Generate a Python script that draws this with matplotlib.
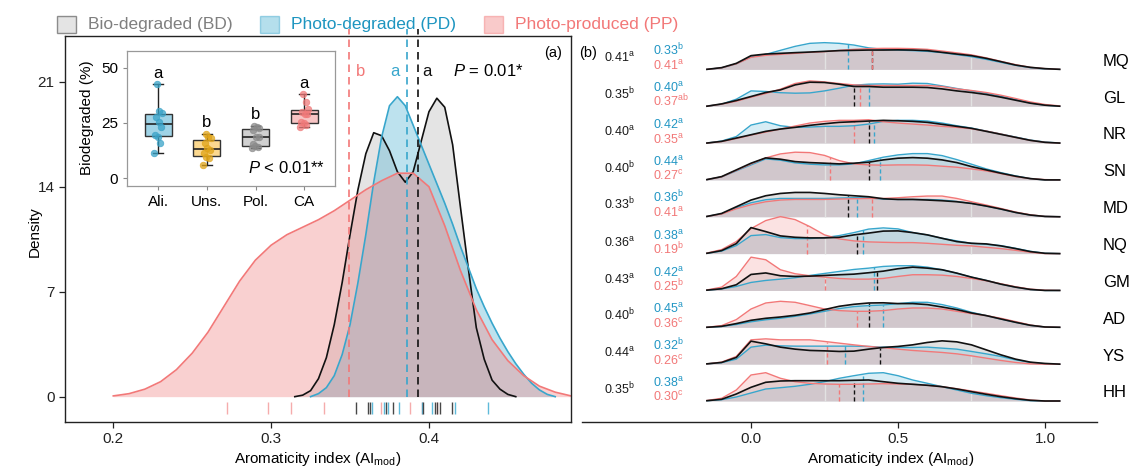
import numpy as np
import matplotlib
matplotlib.use("Agg")
import matplotlib.pyplot as plt
from matplotlib.patches import Rectangle

plt.rcParams["font.family"] = ["Liberation Sans", "DejaVu Sans"]
plt.rcParams["mathtext.fontset"] = "custom"
plt.rcParams["mathtext.rm"] = "Liberation Sans"
plt.rcParams["mathtext.it"] = "Liberation Sans:italic"
plt.rcParams["mathtext.bf"] = "Liberation Sans:bold"

# ---------------- data: panel (a) ----------------
groups = ["BD", "PD", "PP"]
legend_labels = ["Bio-degraded (BD)", "Photo-degraded (PD)", "Photo-produced (PP)"]

# density curves
bd_x = np.linspace(0.315, 0.455, 29)
bd_y = [0, 0.1, 0.4, 1.2, 2.6, 4.8, 7.6, 10.8, 13.8, 16.2, 17.6, 17.4, 16.4, 15.0, 14.3,
        15.0, 17.0, 19.0, 19.9, 19.3, 16.8, 12.6, 8.5, 4.6, 2.5, 1.1, 0.5, 0.15, 0]
pd_x = np.linspace(0.325, 0.48, 32)
pd_y = [0, 0.2, 0.6, 1.4, 2.8, 4.8, 7.6, 10.8, 14.3, 17.3, 19.4, 20.0, 19.4, 18.1, 16.8,
        15.5, 14.2, 12.9, 11.5, 10.0, 8.6, 7.2, 6.0, 4.9, 3.9, 3.0, 2.2, 1.5, 0.9, 0.45,
        0.15, 0]
pp_x = np.linspace(0.20, 0.49, 30)
pp_y = [0.05, 0.2, 0.5, 1.0, 1.8, 2.9, 4.3, 6.0, 7.7, 9.1, 10.1, 10.8, 11.3, 11.8, 12.4,
        13.1, 13.8, 14.4, 14.9, 14.9, 14.0, 11.4, 8.4, 5.8, 3.8, 2.4, 1.4, 0.7, 0.3, 0.05]

rug_bd = [0.3536, 0.3616, 0.3626, 0.3726, 0.3774, 0.3965, 0.4038, 0.4053, 0.407, 0.4144]
rug_pd = [0.3641, 0.3715, 0.3742, 0.381, 0.3958, 0.4021, 0.4165, 0.4376]
rug_pp = [0.272, 0.2982, 0.3124, 0.3337, 0.3694, 0.388, 0.3958, 0.4053]

group_means = [0.3928, 0.386, 0.3496]
group_letters = ["a", "a", "b"]

# inset box plot
box_cats = ["Ali.", "Uns.", "Pol.", "CA"]
box_vals = [
    [11.6, 15.8, 18.8, 19.6, 23.0, 25.6, 27.9, 29.4, 30.4, 42.5],
    [5.9, 9.0, 9.8, 11.3, 12.8, 13.8, 16.0, 18.0, 18.8, 20.0],
    [13.6, 14.0, 14.6, 15.4, 18.6, 18.8, 22.0, 22.6, 23.0, 23.6],
    [23.3, 24.1, 24.8, 25.6, 29.0, 29.2, 30.1, 31.2, 34.6, 38.0],
]
box_letters = ["a", "b", "b", "a"]

# ---------------- data: panel (b) ----------------
sites = ["MQ", "GL", "NR", "SN", "MD", "NQ", "GM", "AD", "YS", "HH"]
ridge_x = np.linspace(-0.15, 1.05, 25)
ridge_bd = {
    "MQ": [0, 1.7, 6, 13.7, 15.3, 16, 16.7, 17.3, 18, 18.7, 19, 19.3, 19.3, 19.5, 19.3, 18.7, 17, 15.3, 13.7, 11, 7.7, 4.3, 2, 0.7, 0],
    "GL": [0, 2.3, 5.7, 9.7, 13.7, 16.3, 21.3, 24, 23.7, 22, 19.7, 19.7, 19, 19, 19, 18.7, 17.3, 15.3, 13.7, 11.7, 9, 6, 3, 1, 0],
    "NR": [0, 1.7, 5, 8.3, 11.7, 14, 15.7, 17.7, 19.3, 20.7, 21.3, 22, 22.7, 22.3, 21.7, 20.7, 18.7, 16.7, 14.7, 11.7, 8.7, 5.7, 2.7, 0.7, 0],
    "SN": [0.3, 3.3, 10, 16.7, 22, 20.7, 18.3, 17.3, 16.7, 16, 16.7, 17.7, 20, 21.7, 22.3, 21.7, 20, 17.3, 13.3, 10, 6.7, 3.7, 1.3, 0, 0],
    "MD": [0.3, 3.3, 10, 16.7, 21, 23.3, 24.3, 24.3, 23.3, 22, 21, 20, 18, 17.3, 17.3, 16.7, 16, 15, 13.3, 10.7, 7.7, 4.3, 1.7, 0.3, 0],
    "NQ": [0.3, 3, 10, 26, 22, 17.7, 16.3, 15.7, 15.7, 16.3, 18.7, 20.5, 22.5, 22.7, 21, 18.7, 15.3, 12, 10.3, 9.7, 7.7, 5, 2, 0.3, 0],
    "GM": [0.3, 1.7, 5.7, 16, 17.5, 14.7, 14, 14.3, 15, 15.7, 16.3, 17.7, 19.3, 21.7, 23.3, 22.3, 20.7, 17.3, 13.3, 10, 6.3, 3.3, 1, 0, 0],
    "AD": [0, 1, 3.7, 7, 9, 10.3, 12, 14.3, 17.7, 21, 23, 24.3, 24.5, 23.7, 23.7, 22.7, 20.3, 17.7, 14.3, 11.7, 8.3, 5, 2, 0.3, 0],
    "YS": [0.3, 1.7, 6.7, 23, 20.3, 17, 15, 13.7, 13.3, 12.7, 13, 15, 16.7, 17.7, 19.3, 21.7, 23.3, 22.3, 19.3, 14.3, 9.3, 5, 2, 0.7, 0],
    "HH": [0.3, 1.7, 7, 13.7, 18.7, 20, 20.3, 20.3, 20.3, 20.3, 20.7, 21, 19.3, 17.7, 16.7, 15.7, 14.3, 12, 9.3, 6.7, 4.3, 2.3, 0.7, 0, 0],
}
ridge_pd = {
    "MQ": [0, 1.5, 5.5, 12.5, 15, 19, 23, 26, 26.7, 26, 24.3, 21.5, 20, 19.3, 18.7, 18, 16.7, 14.7, 12.7, 10, 7, 4, 1.7, 0.3, 0],
    "GL": [0, 2, 7, 15.3, 14.7, 13.5, 13, 13.3, 15.3, 18, 21, 22, 22.3, 22, 23, 22.7, 20.3, 17.7, 15.3, 13, 10, 6.7, 3.3, 1, 0],
    "NR": [0, 2, 6.5, 18, 21.3, 17.3, 15.7, 16, 16.7, 16.7, 17.3, 19, 21.7, 22.7, 22.7, 22, 20, 17.3, 15, 12, 9, 6, 3, 1, 0],
    "SN": [0.3, 3, 9, 15, 21, 19.7, 17, 15.7, 15, 15, 16, 19.3, 22.7, 25, 26.3, 26.3, 24.3, 20.3, 15.7, 11, 7.3, 4, 1.3, 0, 0],
    "MD": [0.3, 3, 9, 14, 17, 18.3, 18.3, 18.3, 18.3, 18.7, 19, 19, 17.5, 17.3, 17.3, 17.3, 16.7, 15.3, 13.3, 10.7, 7.7, 4.3, 1.7, 0.3, 0],
    "NQ": [0.3, 2.5, 8, 18, 19, 16, 15, 15, 16, 18, 21, 24.5, 25.7, 24.7, 21, 18.7, 15.3, 12.7, 10.3, 9.3, 8, 5.3, 2.3, 0.3, 0],
    "GM": [0.3, 1.5, 4, 8, 10, 11.3, 12.7, 15, 17, 19, 21, 22.3, 24, 24.7, 24.7, 23.3, 20.7, 17.3, 13.3, 10, 6.3, 3.3, 1, 0, 0],
    "AD": [0, 0.8, 2.8, 5.5, 7.5, 9, 11, 13.3, 16, 18.7, 20.7, 21.7, 22.3, 23.7, 25, 25, 22.7, 19.3, 15, 11.7, 8.3, 5, 2, 0.3, 0],
    "YS": [0.3, 1.5, 5, 17, 19, 18.3, 18, 18, 18, 18, 18, 17.7, 17, 16.7, 16.7, 17, 16, 15, 12.7, 10.3, 7.7, 4.3, 1.7, 0.3, 0],
    "HH": [0.3, 1.3, 4, 8, 12, 13.3, 14.7, 16.7, 19.3, 22.7, 25.3, 27.7, 28.3, 25.3, 21, 17.7, 14.3, 11, 7.7, 5.3, 3.3, 1.7, 0.3, 0, 0],
}
ridge_pp = {
    "MQ": [0, 1.5, 5.5, 12, 14, 15, 16, 17, 17.7, 19, 20, 20.7, 21, 21, 20.7, 20, 18.3, 16.5, 14.5, 11.5, 8, 4.7, 2, 0.7, 0],
    "GL": [0, 2, 5, 9, 12.7, 17, 22.7, 25.3, 24.3, 22.7, 21.3, 20.7, 20.7, 20.7, 20.7, 20.7, 19.7, 17.3, 15.7, 13.7, 11, 7.7, 4.3, 1.7, 0.3],
    "NR": [0, 1.5, 4.5, 8, 11, 14, 17, 20, 21.7, 22.7, 22.7, 23.3, 21.3, 20, 19, 18, 16.7, 15.7, 14.3, 12, 9, 5.7, 2.7, 0.7, 0],
    "SN": [0.3, 3, 9.5, 16, 22, 26, 27.7, 27.3, 24.5, 19.3, 16, 15, 14.7, 15, 15, 14.7, 13.7, 12.7, 11, 9, 6.3, 3.3, 1.3, 0.3, 0],
    "MD": [0.3, 2.7, 8, 12, 15, 16.7, 17.3, 17.3, 17.3, 17.7, 18, 18.3, 18.3, 19, 20, 20.7, 20.7, 18.3, 15, 11.7, 8.3, 4.7, 2, 0.3, 0],
    "NQ": [0.5, 4, 12, 25, 33, 37, 34, 27, 18.7, 14.7, 12.7, 11.7, 11.3, 11, 11, 10.3, 9.3, 8.3, 7.7, 6.3, 5, 3.3, 1.3, 0, 0],
    "GM": [0.5, 3.3, 14, 33.3, 30.7, 20.7, 16.7, 14.7, 13.3, 12, 11.3, 11.3, 12, 14, 15.7, 15.7, 15.3, 14, 12, 9.7, 6.7, 3.7, 1.3, 0.3, 0],
    "AD": [0, 1.7, 7.7, 18.3, 24.3, 26, 25, 21.7, 18.3, 16.7, 16, 16, 16.7, 18.3, 19.3, 19.3, 18.3, 16, 13.7, 11.7, 9, 5.7, 2.3, 0.3, 0],
    "YS": [0.3, 2, 7.7, 24.3, 25.3, 24.3, 24.3, 24.3, 22.7, 21, 19.3, 17.7, 16.5, 15, 13.7, 12.7, 11.7, 10.3, 8.3, 6, 3.7, 1.7, 0.3, 0, 0],
    "HH": [0.5, 2.7, 11, 26, 28.3, 22.7, 19.3, 17.7, 17, 16.7, 16.7, 17, 17.3, 17, 16.7, 15.7, 14.3, 12.3, 10, 7.7, 5.3, 3, 1, 0, 0],
}

site_bd_mean = [0.41, 0.35, 0.40, 0.40, 0.33, 0.36, 0.43, 0.40, 0.44, 0.35]
site_bd_lab = ["a", "b", "a", "b", "b", "a", "a", "b", "a", "b"]
site_pd_mean = [0.33, 0.40, 0.42, 0.44, 0.36, 0.38, 0.42, 0.45, 0.32, 0.38]
site_pd_lab = ["b", "a", "a", "a", "b", "a", "a", "a", "b", "a"]
site_pp_mean = [0.41, 0.37, 0.35, 0.27, 0.41, 0.19, 0.25, 0.36, 0.26, 0.30]
site_pp_lab = ["a", "ab", "a", "c", "a", "b", "b", "c", "c", "c"]

# ---------------- styles ----------------
W, H = 1132, 471
line_col = {"BD": "#111111", "PD": "#38a6cc", "PP": "#f27878"}
fill_col = {"BD": "#c4c4c4", "PD": "#5bb8d6", "PP": "#f28b8b"}
text_col = {"BD": "#7f7f7f", "PD": "#1d95c0", "PP": "#f27878"}
num_col = {"BD": "#1a1a1a", "PD": "#2196c4", "PP": "#f27878"}


def fig_rect(l, t, r, b):
    return [l / W, 1 - b / H, (r - l) / W, (b - t) / H]


def sup(v, s):
    return f"{v:.2f}" + r"$^{\mathrm{" + s + "}}$"


fig = plt.figure(figsize=(W / 100, H / 100), dpi=100)

# ---------------- panel (a) ----------------
ax = fig.add_axes(fig_rect(65, 36, 571, 422))
curves = {"BD": (bd_x, bd_y), "PD": (pd_x, pd_y), "PP": (pp_x, pp_y)}
alphas = {"BD": 0.45, "PD": 0.4, "PP": 0.4}
for g in groups:
    x, y = curves[g]
    ax.fill_between(x, 0, y, color=fill_col[g], alpha=alphas[g], lw=0)
    ax.plot(x, y, color=line_col[g], lw=1.2)

top = 24.05
rugs = {"BD": rug_bd, "PD": rug_pd, "PP": rug_pp}
rug_col = {"BD": "#333333", "PD": "#4db3d6", "PP": "#f4a3a3"}
for g in ["PP", "PD", "BD"]:
    ax.vlines(rugs[g], -1.15, -0.35, colors=rug_col[g], lw=1.0, alpha=0.9)

letter_dx = [0.0062, -0.0073, 0.0068]
for g, m, lt, dx in zip(groups, group_means, group_letters, letter_dx):
    ax.vlines(m, 0, top + 0.5, colors=line_col[g], lw=1.2, linestyles=(0, (4.5, 3)),
              clip_on=False)
    ax.text(m + dx, 21.7, lt, color=line_col[g], fontsize=12, ha="center", va="center")
ax.text(0.4154, 21.7, r"$P$ = 0.01*", fontsize=12, ha="left", va="center")

ax.set_xlim(0.1694, 0.49)
ax.set_ylim(-1.69, top)
ax.set_xticks([0.2, 0.3, 0.4])
ax.set_xticklabels(["0.2", "0.3", "0.4"])
ax.set_yticks([0, 7, 14, 21])
ax.tick_params(labelsize=11, length=4, width=0.9, colors="#222222")
for sp in ax.spines.values():
    sp.set_linewidth(1.0)
    sp.set_color("#222222")

fig.text(35 / W, 1 - 232 / H, "Density", rotation=90, fontsize=11,
         ha="center", va="center")
fig.text(318 / W, 1 - 459 / H, r"Aromaticity index (AI$_{\mathrm{mod}}$)",
         fontsize=11, ha="center", va="center")
fig.text(553 / W, 1 - 53 / H, "(a)", fontsize=10.5, ha="center", va="center")
fig.text(588 / W, 1 - 53 / H, "(b)", fontsize=10.5, ha="center", va="center")

# inset boxplot
ins = fig.add_axes(fig_rect(127, 51, 335, 186))
box_face = ["#9fd3e6", "#fbd88f", "#d0d0d0", "#f7c4c4"]
pt_col = ["#3aa3c8", "#e0a418", "#8a8a8a", "#f07a7a"]
bp = ins.boxplot(box_vals, positions=range(4), widths=0.55, patch_artist=True,
                 showfliers=False, capwidths=0.2,
                 medianprops=dict(color="#222222", lw=1.2),
                 whiskerprops=dict(color="#222222", lw=1.0),
                 capprops=dict(color="#222222", lw=1.0),
                 boxprops=dict(edgecolor="#333333", lw=1.0))
for patch, fc in zip(bp["boxes"], box_face):
    patch.set_facecolor(fc)
for i, vals in enumerate(box_vals):
    n = len(vals)
    jit = ((np.arange(n) * 7) % n / (n - 1) - 0.5) * 0.16
    ins.scatter(i + jit, vals, s=22, color=pt_col[i], alpha=0.75,
                edgecolor=pt_col[i], lw=0.6, zorder=3)
    ins.text(i, max(vals) + 5, box_letters[i], fontsize=12, ha="center", va="center")
ins.text(3.42, 4.5, r"$P$ < 0.01**", fontsize=12, ha="right", va="center")
ins.set_xlim(-0.64, 3.63)
ins.set_ylim(-3.5, 57.5)
ins.set_xticks(range(4))
ins.set_xticklabels(box_cats)
ins.set_yticks([0, 25, 50])
ins.tick_params(labelsize=11, length=3, width=0.8, color="#888888")
for sp in ins.spines.values():
    sp.set_color("#999999")
    sp.set_linewidth(0.9)
fig.text(87 / W, 1 - 118 / H, "Biodegraded (%)", rotation=90, fontsize=11,
         ha="center", va="center")

# legend at top
leg_sq = [57, 260, 484]
for g, lab, x0 in zip(groups, legend_labels, leg_sq):
    fig.add_artist(Rectangle((x0 / W, 1 - 32.5 / H), 19 / W, 17 / H,
                             transform=fig.transFigure,
                             facecolor=fill_col[g], alpha=0.45,
                             edgecolor=line_col[g], lw=1.0))
    fig.text((x0 + 31) / W, 1 - 24 / H, lab, color=text_col[g], fontsize=12.5,
             ha="left", va="center")

# ---------------- panel (b) ----------------
bx = fig.add_axes(fig_rect(582, 36, 1097, 422))
px_unit = 36.85
ridge_alpha = {"BD": 0.45, "PD": 0.3, "PP": 0.3}
ridge_fill = {"BD": "#bdbdbd", "PD": "#7cc6de", "PP": "#f4a0a0"}
n_sites = len(sites)
for i, site in enumerate(sites):
    base = n_sites - 1 - i
    hs = {
        "BD": np.array(ridge_bd[site]) / px_unit,
        "PD": np.array(ridge_pd[site]) / px_unit,
        "PP": np.array(ridge_pp[site]) / px_unit,
    }
    means = {"BD": site_bd_mean[i], "PD": site_pd_mean[i], "PP": site_pp_mean[i]}
    labs = {"BD": site_bd_lab[i], "PD": site_pd_lab[i], "PP": site_pp_lab[i]}
    for g in groups:
        bx.fill_between(ridge_x, base, base + hs[g], color=ridge_fill[g],
                        alpha=ridge_alpha[g], lw=0)
    for q in [0.25, 0.75]:
        hq = min(np.interp(q, ridge_x, hs[g]) for g in groups)
        bx.vlines(q, base, base + hq, colors="#e2e2e2", lw=1.0)
    for g in groups:
        hm = np.interp(means[g], ridge_x, hs[g])
        bx.vlines(means[g], base, base + hm, colors=line_col[g], lw=1.0,
                  linestyles=(0, (3, 2)))
    for g in ["PD", "PP", "BD"]:
        bx.plot(ridge_x, base + hs[g], color=line_col[g],
                lw=1.2 if g == "BD" else 1.0)
    bx.text(-0.5, base + 0.19, sup(means["BD"], labs["BD"]), color=num_col["BD"],
            fontsize=9, ha="left", va="baseline")
    bx.text(-0.333, base + 0.38, sup(means["PD"], labs["PD"]), color=num_col["PD"],
            fontsize=9, ha="left", va="baseline")
    bx.text(-0.333, base - 0.01, sup(means["PP"], labs["PP"]), color=num_col["PP"],
            fontsize=9, ha="left", va="baseline")
    bx.text(1.197, base + 0.22, site, fontsize=12, ha="left", va="center",
            clip_on=False)

bx.set_xlim(-0.575, 1.177)
bx.set_ylim(-0.57, 9.905)
bx.set_xticks([0.0, 0.5, 1.0])
bx.set_xticklabels(["0.0", "0.5", "1.0"])
bx.set_yticks([])
bx.tick_params(labelsize=11, length=4, width=0.9, colors="#222222")
for s in ["left", "top", "right"]:
    bx.spines[s].set_visible(False)
bx.spines["bottom"].set_linewidth(1.0)
bx.spines["bottom"].set_color("#222222")
fig.text(891 / W, 1 - 459 / H, r"Aromaticity index (AI$_{\mathrm{mod}}$)",
         fontsize=11, ha="center", va="center")

fig.savefig("out.png", dpi=100)
